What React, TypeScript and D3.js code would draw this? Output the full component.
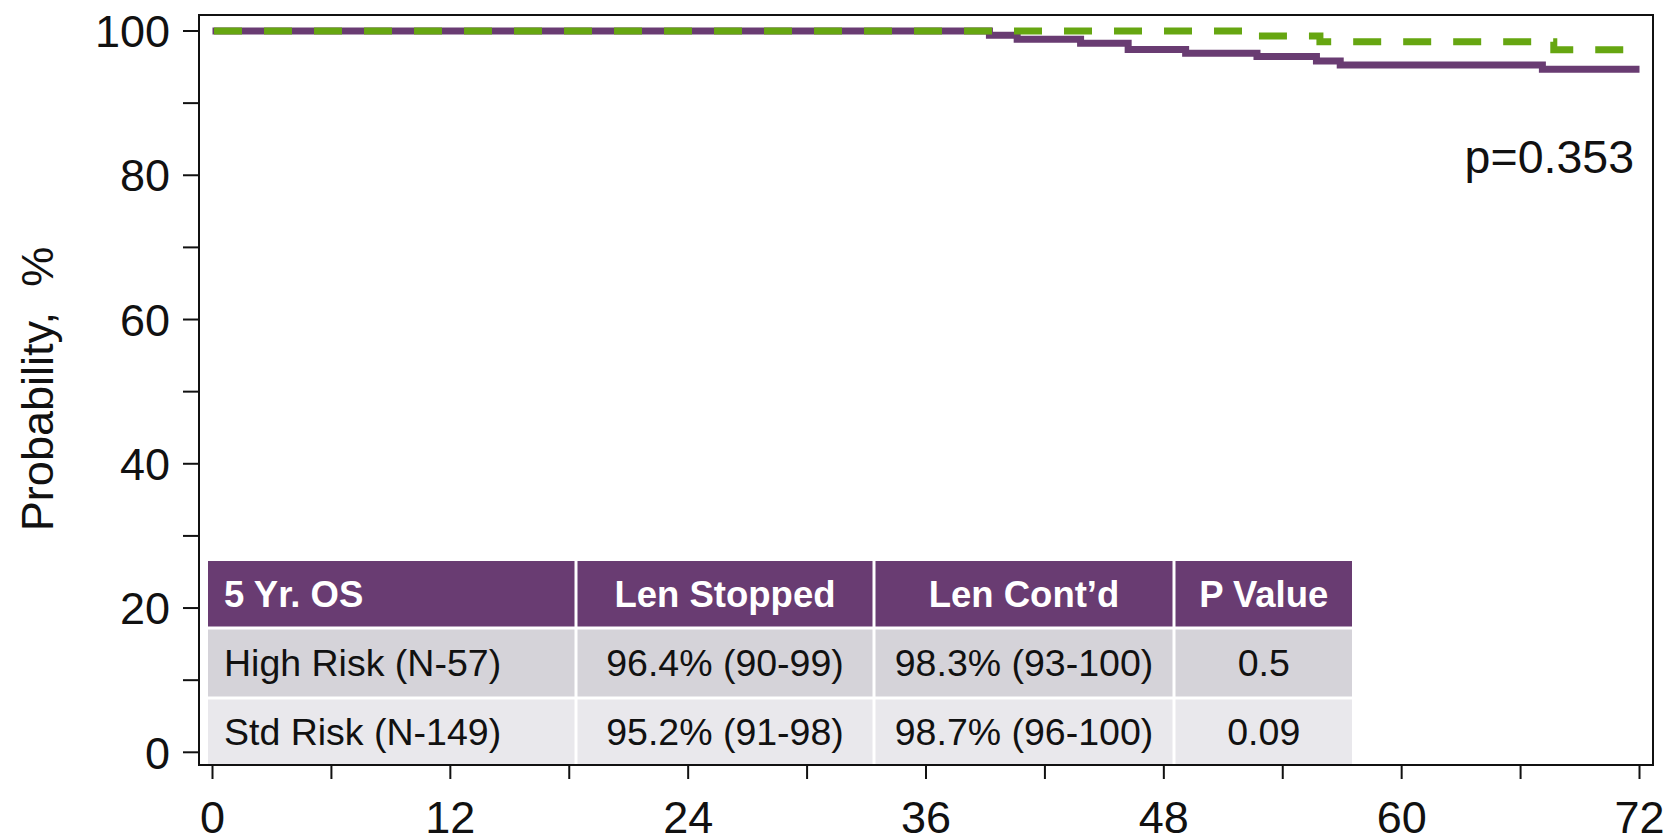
import React from "react";
import * as d3 from "d3";

// Kaplan-Meier step data (months, survival %)
const stoppedTimes = [0, 39.2, 40.6, 43.8, 46.2, 49.1, 52.7, 55.7, 56.9, 67.1, 72];
const stoppedSurv = [100, 99.4, 98.85, 98.3, 97.45, 96.9, 96.45, 95.85, 95.3, 94.7, 94.7];
const contTimes = [0, 52.9, 55.8, 67.6, 72];
const contSurv = [100, 99.3, 98.5, 97.4, 97.4];

const xMajorTicks = [0, 12, 24, 36, 48, 60, 72];
const xMinorTicks = [6, 18, 30, 42, 54, 66];
const yMajorTicks = [0, 20, 40, 60, 80, 100];
const yMinorTicks = [10, 30, 50, 70, 90];

const tableHeader = ["5 Yr. OS", "Len Stopped", "Len Cont\u2019d", "P Value"];
const tableRow1 = ["High Risk (N-57)", "96.4% (90-99)", "98.3% (93-100)", "0.5"];
const tableRow2 = ["Std Risk (N-149)", "95.2% (91-98)", "98.7% (96-100)", "0.09"];

const pValueLabel = "p=0.353";
const yTitle = "Probability,  %";

const W = 1672;
const H = 837;
const FONT = "'Liberation Sans', Arial, Helvetica, sans-serif";

const PURPLE = "#693C72";
const GREEN = "#66A611";

export default function App() {
  const x = d3.scaleLinear().domain([0, 72]).range([212.5, 1639.5]);
  const y = d3.scaleLinear().domain([0, 100]).range([752.3, 31]);

  const frame = { left: 199, top: 15, right: 1653, bottom: 765 };

  const line = d3
    .line<[number, number]>()
    .x((d) => x(d[0]))
    .y((d) => y(d[1]))
    .curve(d3.curveStepAfter);

  const stoppedPts: [number, number][] = stoppedTimes.map((t, i) => [t, stoppedSurv[i]]);
  const contPts: [number, number][] = contTimes.map((t, i) => [t, contSurv[i]]);

  // table layout
  const colEdges = [208, 576, 874, 1174, 1352];
  const rowEdges = [561, 628, 698, 765];
  const rows = [tableHeader, tableRow1, tableRow2];
  const rowFills = [PURPLE, "#D5D3D9", "#E9E8EC"];
  const gap = 3;

  return (
    <svg
      width={W}
      height={H}
      style={{ position: "absolute", left: 0, top: 0, background: "#fff" }}
      fontFamily={FONT}
    >
      <rect x={0} y={0} width={W} height={H} fill="#fff" />

      {/* table */}
      {rows.map((row, ri) =>
        row.map((cell, ci) => {
          const x0 = colEdges[ci] + (ci > 0 ? gap / 2 : 0);
          const x1 = colEdges[ci + 1] - (ci < row.length - 1 ? gap / 2 : 0);
          const y0 = rowEdges[ri] + (ri > 0 ? gap / 2 : 0);
          const y1 = rowEdges[ri + 1] - (ri < rows.length - 1 ? gap / 2 : 0);
          const isHeader = ri === 0;
          const tx = ci === 0 ? x0 + 16 : (x0 + x1) / 2;
          return (
            <g key={`c${ri}-${ci}`}>
              <rect x={x0} y={y0} width={x1 - x0} height={y1 - y0} fill={rowFills[ri]} />
              <text
                x={tx}
                y={(y0 + y1) / 2}
                dy="0.35em"
                textAnchor={ci === 0 ? "start" : "middle"}
                fontSize={isHeader ? 36.5 : 37.5}
                fontWeight={isHeader ? "bold" : "normal"}
                fill={isHeader ? "#fff" : "#111"}
              >
                {cell}
              </text>
            </g>
          );
        })
      )}

      {/* curves */}
      <path d={line(stoppedPts) || ""} fill="none" stroke={PURPLE} strokeWidth={7} />
      <path
        d={line(contPts) || ""}
        fill="none"
        stroke={GREEN}
        strokeWidth={7}
        strokeDasharray="28 22"
        transform="translate(1.5,0)"
      />

      {/* frame */}
      <rect
        x={frame.left}
        y={frame.top}
        width={frame.right - frame.left}
        height={frame.bottom - frame.top}
        fill="none"
        stroke="#111"
        strokeWidth={2}
      />

      {/* y ticks */}
      {yMajorTicks.concat(yMinorTicks).map((t) => (
        <line key={`yt${t}`} x1={frame.left - 16} x2={frame.left} y1={y(t)} y2={y(t)} stroke="#111" strokeWidth={2} />
      ))}
      {yMajorTicks.map((t) => (
        <text key={`yl${t}`} x={170} y={y(t)} dy="0.36em" textAnchor="end" fontSize={45} fill="#111">
          {t}
        </text>
      ))}

      {/* x ticks */}
      {xMajorTicks.concat(xMinorTicks).map((t) => (
        <line key={`xt${t}`} x1={x(t)} x2={x(t)} y1={frame.bottom} y2={frame.bottom + 14} stroke="#111" strokeWidth={2} />
      ))}
      {xMajorTicks.map((t) => (
        <text key={`xl${t}`} x={x(t)} y={817} dy="0.36em" textAnchor="middle" fontSize={45} fill="#111">
          {t}
        </text>
      ))}

      {/* p value */}
      <text x={1634} y={156} dy="0.36em" textAnchor="end" fontSize={46.5} fill="#111">
        {pValueLabel}
      </text>

      {/* y title */}
      <text
        transform={`translate(37,389) rotate(-90)`}
        textAnchor="middle"
        dy="0.36em"
        fontSize={45}
        fill="#111"
        style={{ whiteSpace: "pre" }}
      >
        {yTitle}
      </text>
    </svg>
  );
}
